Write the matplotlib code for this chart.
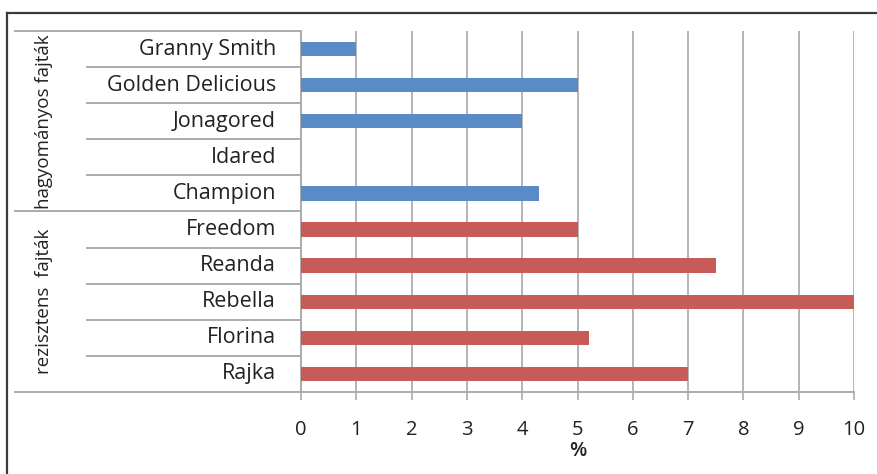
import matplotlib
matplotlib.use("Agg")
import matplotlib.pyplot as plt
from matplotlib.lines import Line2D
from matplotlib.transforms import blended_transform_factory

categories = ["Granny Smith", "Golden Delicious", "Jonagored", "Idared", "Champion",
              "Freedom", "Reanda", "Rebella", "Florina", "Rajka"]
values = [1.0, 5.0, 4.0, 0.0, 4.3, 5.0, 7.5, 10.0, 5.2, 7.0]
groups = ["hagyományos fajták", "rezisztens  fajták"]
group_sizes = [5, 5]
group_colors = ["#5A8BC6", "#C65B58"]
xticks = list(range(0, 11))
xlabel = "%"

plt.rcParams['font.family'] = ['Open Sans', 'DejaVu Sans']

W, H = 878, 474
fig = plt.figure(figsize=(W / 100, H / 100), dpi=100)
ax_l, ax_r, ax_t, ax_b = 301, 854, 31, 392
ax = fig.add_axes([ax_l / W, 1 - ax_b / H, (ax_r - ax_l) / W, (ax_b - ax_t) / H])

n = len(categories)
ypos = list(range(n))
colors = []
for g, s in enumerate(group_sizes):
    colors += [group_colors[g]] * s

ax.barh(ypos, values, height=0.4, color=colors, zorder=3)
ax.set_ylim(n - 0.5, -0.5)
ax.set_xlim(0, 10)
ax.set_xticks(xticks)
ax.set_xticklabels([str(t) for t in xticks], fontsize=14.5, color="#222222")
ax.tick_params(axis='x', length=6, width=1.2, color="#ABABAB", pad=14)
ax.set_yticks([])
ax.grid(axis='x', color="#B4B4B4", linewidth=1.4, zorder=0)
for sp in ["top", "right"]:
    ax.spines[sp].set_visible(False)
for sp in ["left", "bottom"]:
    ax.spines[sp].set_color("#ABABAB")
    ax.spines[sp].set_linewidth(1.4)
ax.set_xlabel(xlabel, fontsize=14.5, labelpad=1, color="#222222", fontweight='semibold')

# category labels
for i, c in enumerate(categories):
    ax.text(-25 / (ax_r - ax_l), i, c, transform=blended_transform_factory(ax.transAxes, ax.transData),
            ha='right', va='center', fontsize=15.5, color="#222222")

# separator lines
tr = blended_transform_factory(fig.transFigure, ax.transData)
start = 0
bounds = [-0.5]
for s in group_sizes:
    start += s
    bounds.append(start - 0.5)
for k in range(n + 1):
    y = k - 0.5
    x0 = 15 if y in bounds else 87
    ax.add_line(Line2D([x0 / W, ax_l / W], [y, y], transform=tr, color="#ABABAB",
                       linewidth=1.4, clip_on=False))

# group labels
s0 = 0
for g, s in zip(groups, group_sizes):
    yc = s0 + s / 2 - 0.5
    ax.text(44 / W, yc, g, transform=tr, rotation=90, ha='center', va='center',
            fontsize=13.5, color="#222222")
    s0 += s

# outer frame
fig.add_artist(Line2D([7 / W, 7 / W], [0, 1 - 13 / H], color="#3A3A3A", linewidth=1.6))
fig.add_artist(Line2D([7 / W, 1], [1 - 13 / H, 1 - 13 / H], color="#3A3A3A", linewidth=1.6))

fig.savefig("out.png", dpi=100)
